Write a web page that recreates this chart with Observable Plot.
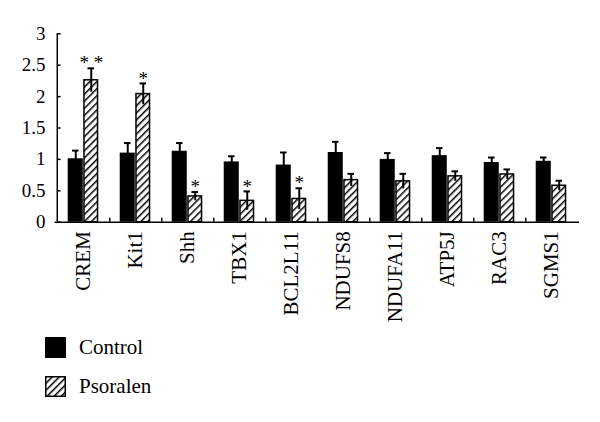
<!DOCTYPE html>
<html><head><meta charset="utf-8">
<script src="https://cdn.jsdelivr.net/npm/d3@7"></script>
<script src="https://cdn.jsdelivr.net/npm/@observablehq/plot@0.6"></script>
<style>
body{margin:0;background:#fff;font-family:"Liberation Serif","Times New Roman",serif;}
#legend{margin-left:45px;margin-top:3px;font-size:21px;color:#000;}
.item{display:flex;align-items:center;height:39px;}
.item svg{margin-right:13px;}
</style></head>
<body>
<div id="chart"></div>
<div id="legend">
  <div class="item"><svg width="21" height="21"><rect x="0" y="0" width="21" height="21" fill="#000"/></svg>Control</div>
  <div class="item"><svg width="21" height="21"><defs><pattern id="hatchL" patternUnits="userSpaceOnUse" width="5" height="5" patternTransform="rotate(45)"><rect width="5" height="5" fill="#fff"/><line x1="0" y1="0" x2="0" y2="5" stroke="#000" stroke-width="3"/></pattern></defs><rect x="0.75" y="0.75" width="19.5" height="19.5" fill="url(#hatchL)" stroke="#000" stroke-width="1.5"/></svg>Psoralen</div>
</div>
<script>
const genes = ["CREM","Kit1","Shh","TBX1","BCL2L11","NDUFS8","NDUFA11","ATP5J","RAC3","SGMS1"];
const control = [1.01, 1.10, 1.13, 0.96, 0.91, 1.11, 1.00, 1.06, 0.95, 0.97];
const controlErr = [0.13, 0.16, 0.13, 0.09, 0.20, 0.17, 0.10, 0.12, 0.08, 0.06];
const psoralen = [2.26, 2.04, 0.41, 0.34, 0.37, 0.67, 0.65, 0.73, 0.76, 0.58];
const psoralenErr = [0.19, 0.17, 0.07, 0.15, 0.17, 0.10, 0.12, 0.08, 0.08, 0.08];
const signif = ["* *", "*", "*", "*", "*", "", "", "", "", ""];
const yTicks = [0, 0.5, 1, 1.5, 2, 2.5, 3];

const ctl = genes.map((g,i)=>({gene:g, v:control[i], e:controlErr[i]}));
const pso = genes.map((g,i)=>({gene:g, v:psoralen[i], e:psoralenErr[i], s:signif[i]}));

const W = 600, H = 325, mL = 54.5, mR = 21, mT = 33.3, mB = 103.3;
const bw = (W - mL - mR) / genes.length;
const barW = 15.5, off = barW/2, capW = 7;
const frameH = H - mT - mB;

const chart = Plot.plot({
  width: W, height: H,
  marginLeft: mL, marginRight: mR, marginTop: mT, marginBottom: mB,
  style: {fontFamily: "Liberation Serif", fontSize: "19px", color: "#000", background: "#fff"},
  x: {domain: genes, padding: 0, label: null, tickSize: 0, tickPadding: 9, tickRotate: -90},
  y: {domain: [0, 3], ticks: yTicks, tickFormat: d => String(d), label: null, tickSize: 0, tickPadding: 9.5},
  marks: [
    Plot.barY(ctl, {x: "gene", y: "v", fill: "#000", dx: -off, insetLeft: (bw-barW)/2, insetRight: (bw-barW)/2}),
    Plot.barY(pso, {x: "gene", y: "v", fill: "url(#hatch)", stroke: "#000", strokeWidth: 1.5, dx: off, insetLeft: (bw-barW)/2 + 0.75, insetRight: (bw-barW)/2 + 0.75}),
    Plot.ruleX(ctl, {x: "gene", y1: d => d.v - d.e, y2: d => d.v + d.e, dx: -off, stroke: "#000", strokeWidth: 2}),
    Plot.ruleX(pso, {x: "gene", y1: d => d.v - d.e, y2: d => d.v + d.e, dx: off, stroke: "#000", strokeWidth: 2}),
    Plot.tickY(ctl, {x: "gene", y: d => d.v + d.e, dx: -off, insetLeft: (bw-capW)/2, insetRight: (bw-capW)/2, stroke: "#000", strokeWidth: 2}),
    Plot.tickY(pso, {x: "gene", y: d => d.v + d.e, dx: off, insetLeft: (bw-capW)/2, insetRight: (bw-capW)/2, stroke: "#000", strokeWidth: 2}),
    Plot.text(pso, {x: "gene", y: d => d.v + d.e, text: "s", dx: off, dy: -5, fontSize: 19, fill: "#000"}),
    Plot.ruleY([0], {stroke: "#000", strokeWidth: 1.5}),
    Plot.ruleX([genes[0]], {dx: -bw/2, y1: 0, y2: 3, stroke: "#000", strokeWidth: 1.5}),
    Plot.tickY(yTicks, {x: () => genes[0], y: d => d, insetLeft: 0, insetRight: bw - 4, stroke: "#000", strokeWidth: 1.5}),
    Plot.ruleX(genes.slice(0, -1), {dx: bw/2, insetTop: frameH - 4, stroke: "#000", strokeWidth: 1.5})
  ]
});
d3.select(chart).insert("defs", ":first-child").html(
  '<pattern id="hatch" patternUnits="userSpaceOnUse" width="5" height="5" patternTransform="rotate(45)"><rect width="5" height="5" fill="#fff"/><line x1="0" y1="0" x2="0" y2="5" stroke="#000" stroke-width="3"/></pattern>'
);
d3.select(chart).selectAll('[aria-label^="x-axis"]').attr("font-size", "21px").style("font-size", "21px");
document.getElementById("chart").appendChild(chart);
</script>
</body></html>
